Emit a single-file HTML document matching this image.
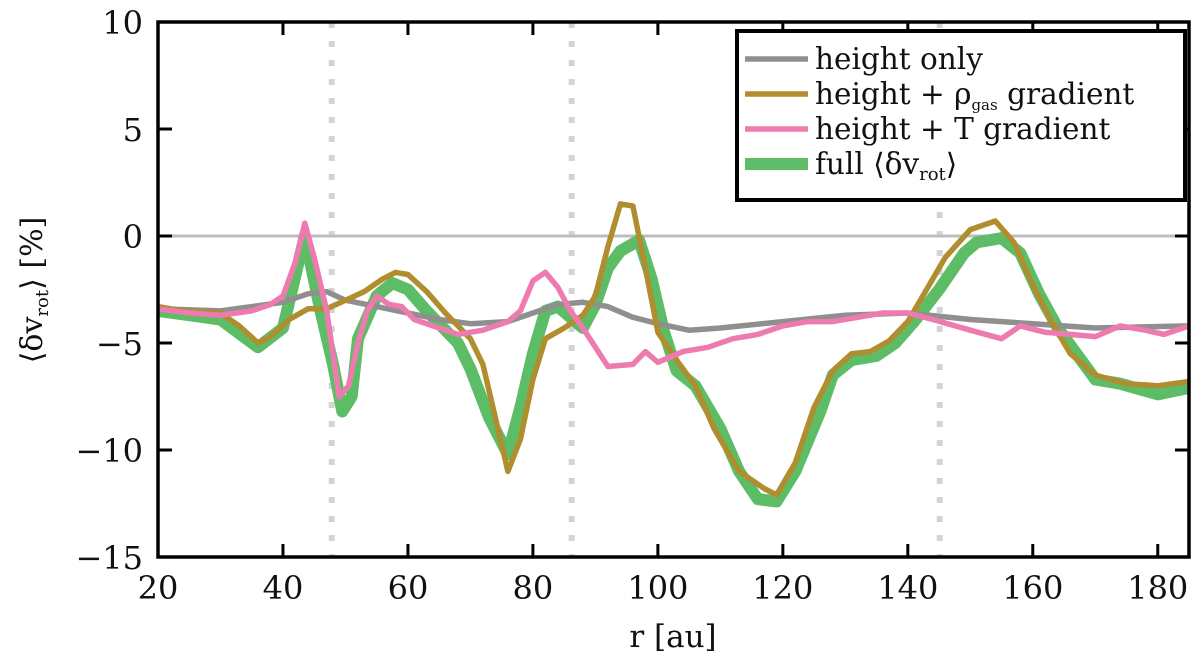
<!DOCTYPE html>
<html><head><meta charset="utf-8"><style>
body{margin:0;background:#fff;}
svg{display:block;font-family:"DejaVu Serif","Liberation Serif",serif;}
</style></head><body>
<svg id="chart" width="1200" height="663" viewBox="0 0 1200 663">
<g id="grid"></g>
<g id="series"></g>
<g id="axes"></g>
<g id="legend"></g>
</svg>
<script>
const xTicks=[20,40,60,80,100,120,140,160,180];
const yTicks=[10,5,0,-5,-10,-15];
const gapRadii=[47.8,86.2,145.1];
const grayR=[20,30,40,44,47,50,55,60,65,70,76,80,84,88,92,96,100,105,110,120,130,140,150,160,170,185];
const grayV=[-3.4,-3.5,-3.1,-2.7,-2.6,-3.0,-3.3,-3.6,-3.9,-4.1,-4.0,-3.6,-3.2,-3.1,-3.3,-3.8,-4.1,-4.4,-4.3,-4.0,-3.7,-3.6,-3.9,-4.1,-4.3,-4.2];
const goldR=[20,24,30,33,36,38,41,44,47,50,53,56,58,60,63,66,70,72,74,76,78,80,82,85,88,90,92,94,96,98,100,103,106,109,113,117,119,122,125,128,131,134,137,140,143,146,150,154,157,160,163,166,170,175,180,185];
const goldV=[-3.3,-3.5,-3.6,-4.2,-5.0,-4.7,-3.9,-3.4,-3.4,-3.0,-2.6,-2.0,-1.7,-1.8,-2.6,-3.6,-4.8,-6.0,-8.5,-11.0,-9.5,-6.7,-4.8,-4.3,-3.7,-2.8,-0.5,1.5,1.4,-1.5,-4.5,-5.8,-7.0,-9.0,-11.0,-11.8,-12.1,-10.6,-8.0,-6.3,-5.5,-5.4,-4.9,-4.0,-2.5,-1.0,0.3,0.7,-0.3,-2.3,-4.0,-5.5,-6.5,-6.9,-7.0,-6.8];
const greenR=[20,25,30,36,40,43.5,46,48,49.5,51,52,55,57.5,60,63,68,70,73,76,78,80,82,84,86,88,90,92,94,97,99,101,103,106,110,113,116,119,122,126,128,131,135,138,141,145,149,151,155,158,161,164,167,170,174,180,185];
const greenV=[-3.5,-3.7,-3.9,-5.2,-4.3,0.0,-3.5,-6.0,-8.2,-7.5,-4.8,-2.8,-2.2,-2.5,-3.5,-5.0,-6.2,-8.5,-10.2,-8.0,-5.5,-3.5,-3.3,-3.8,-4.3,-3.2,-1.5,-0.7,-0.2,-2.0,-4.5,-6.3,-7.0,-9.0,-11.0,-12.3,-12.4,-11.0,-8.2,-6.5,-5.8,-5.6,-5.0,-4.0,-2.5,-0.8,-0.3,-0.1,-0.8,-2.7,-4.3,-5.5,-6.7,-6.9,-7.4,-7.1];
const pinkR=[20,25,30,35,38,40,42,43.5,45,47,49,50.5,52,53.5,55,57,59,61,64,68,72,76,78,80,82,84,86,88,90,92,96,98,100,104,108,112,116,120,124,128,132,136,140,144,150,155,158,162,166,170,174,178,181,185];
const pinkV=[-3.4,-3.6,-3.7,-3.5,-3.2,-2.8,-1.2,0.6,-1.0,-3.5,-7.5,-7.0,-5.0,-3.5,-2.8,-3.2,-3.3,-3.9,-4.2,-4.6,-4.4,-4.0,-3.5,-2.1,-1.7,-2.4,-3.5,-4.3,-5.2,-6.1,-6.0,-5.4,-5.9,-5.4,-5.2,-4.8,-4.6,-4.2,-4.0,-4.0,-3.8,-3.6,-3.6,-3.9,-4.4,-4.8,-4.2,-4.5,-4.6,-4.7,-4.2,-4.4,-4.6,-4.2];

const L=158,R=1189,T=22,B=557;
const X=r=>L+(r-20)*(R-L)/165;
const Y=v=>T+(10-v)*(B-T)/25;
const NS='http://www.w3.org/2000/svg';
function mk(tag,parent,attrs){const e=document.createElementNS(NS,tag);for(const k in attrs)e.setAttribute(k,attrs[k]);parent.appendChild(e);return e;}
const grid=document.getElementById('grid'),ser=document.getElementById('series'),ax=document.getElementById('axes'),lg=document.getElementById('legend');

gapRadii.forEach(r=>{const l=mk('line',grid,{x1:X(r),x2:X(r),y1:T,y2:B,stroke:'#d3d3d3','stroke-width':6,'stroke-dasharray':'6 13'});

});
const z=mk('line',grid,{x1:L,x2:R,y1:Y(0),y2:Y(0),stroke:'#bdbdbd','stroke-width':3});



function path(rs,vs,color,w,name){const d=rs.map((r,i)=>(i?'L':'M')+X(r).toFixed(1)+','+Y(vs[i]).toFixed(1)).join('');
const p=mk('path',ser,{d:d,fill:'none',stroke:color,'stroke-width':w,'stroke-linejoin':'round'});

}
path(greenR,greenV,'#5dbd67',12,'series-full');
path(grayR,grayV,'#8f8f8f',5.5,'series-height-only');
path(goldR,goldV,'#b08d2e',5.5,'series-height-rho-gradient');
path(pinkR,pinkV,'#ee7bb0',5.5,'series-height-T-gradient');

mk('rect',ax,{x:L,y:T,width:R-L,height:B-T,fill:'none',stroke:'#000','stroke-width':3.5});
xTicks.forEach(t=>{const x=X(t);
mk('line',ax,{x1:x,x2:x,y1:B,y2:B-13,stroke:'#000','stroke-width':3});
mk('line',ax,{x1:x,x2:x,y1:T,y2:T+13,stroke:'#000','stroke-width':3});
const tx=mk('text',ax,{x:x,y:B+42,'text-anchor':'middle','font-size':32,fill:'#111'});tx.textContent=t;

});
yTicks.forEach(t=>{const y=Y(t);
mk('line',ax,{x1:L,x2:L+14,y1:y,y2:y,stroke:'#000','stroke-width':3});
mk('line',ax,{x1:R,x2:R-14,y1:y,y2:y,stroke:'#000','stroke-width':3});
const tx=mk('text',ax,{x:L-15,y:y+12,'text-anchor':'end','font-size':32,fill:'#111'});tx.textContent=(t<0?'\u2212'+(-t):t);

});
const xt=mk('text',ax,{x:673,y:647,'text-anchor':'middle','font-size':31,fill:'#111'});xt.textContent='r [au]';


const yt=mk('text',ax,{x:0,y:0,'text-anchor':'middle','font-size':30,fill:'#111',transform:'translate(42,290) rotate(-90)'});
yt.innerHTML='⟨δv<tspan font-size="18" dy="6">rot</tspan><tspan dy="-6">⟩ [%]</tspan>';



mk('rect',lg,{x:737,y:31,width:448,height:169,fill:'#fff',stroke:'#000','stroke-width':4});
const entries=[['#8f8f8f',5.5,'height only'],['#b08d2e',5.5,'height + ρ<tspan font-size="15" dy="6">gas</tspan><tspan dy="-6"> gradient</tspan>'],['#ee7bb0',5.5,'height + T gradient'],['#5dbd67',12,'full ⟨δv<tspan font-size="18" dy="6">rot</tspan><tspan dy="-6">⟩</tspan>']];
entries.forEach((e,i)=>{const y=59+i*35;
const g=mk('g',lg,{});


mk('line',g,{x1:745,x2:808,y1:y,y2:y,stroke:e[0],'stroke-width':e[1]});
const t=mk('text',g,{x:815,y:y+10,'font-size':29.5,fill:'#111'});t.innerHTML=e[2];});
</script>
</body></html>
